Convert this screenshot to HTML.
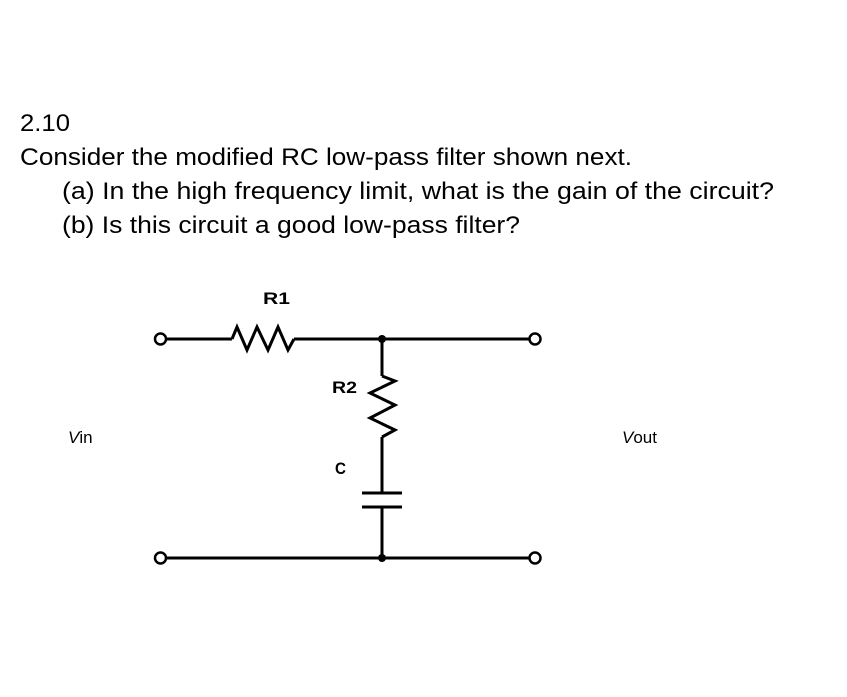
<!DOCTYPE html>
<html><head><style>html,body{margin:0;padding:0;background:#fff;}svg{display:block}</style></head>
<body>
<svg width="847" height="697" viewBox="0 0 847 697" xmlns="http://www.w3.org/2000/svg" font-family="Liberation Sans, sans-serif">
<g font-size="24" fill="#000">
<text x="20" y="131" textLength="50" lengthAdjust="spacingAndGlyphs">2.10</text>
<text x="20" y="165" textLength="612" lengthAdjust="spacingAndGlyphs">Consider the modified RC low-pass filter shown next.</text>
<text x="62" y="199" textLength="712" lengthAdjust="spacingAndGlyphs">(a)  In the high frequency limit, what is the gain of the circuit?</text>
<text x="62" y="233" textLength="458" lengthAdjust="spacingAndGlyphs">(b)  Is this circuit a good low-pass filter?</text>
</g>
<g font-size="17" font-weight="bold">
<text x="263" y="304" textLength="27" lengthAdjust="spacingAndGlyphs">R1</text>
<text x="332" y="393" textLength="25" lengthAdjust="spacingAndGlyphs">R2</text>
<text x="335" y="474" textLength="11" lengthAdjust="spacingAndGlyphs">C</text>
</g>
<g font-size="17" font-style="italic">
<text x="68" y="443">V<tspan font-style="normal">in</tspan></text>
<text x="622" y="443">V<tspan font-style="normal">out</tspan></text>
</g>
<g stroke="#000" stroke-width="3" fill="none" stroke-linejoin="miter">
<line x1="166" y1="339" x2="232" y2="339"/>
<polyline points="232,339 237,327 247,350 257,327 268,350 278,327 288,350 294,339"/>
<line x1="294" y1="339" x2="529" y2="339"/>
<line x1="382" y1="339" x2="382" y2="376"/>
<polyline points="382,376 395,381 370,393 395,405 370,418 395,430 382,437"/>
<line x1="382" y1="437" x2="382" y2="493"/>
<line x1="362" y1="493" x2="402" y2="493"/>
<line x1="362" y1="507" x2="402" y2="507"/>
<line x1="382" y1="507" x2="382" y2="558"/>
<line x1="166" y1="558" x2="529" y2="558"/>
<circle cx="160.5" cy="339" r="5.5" stroke-width="2.5"/>
<circle cx="535" cy="339" r="5.5" stroke-width="2.5"/>
<circle cx="160.5" cy="558" r="5.5" stroke-width="2.5"/>
<circle cx="535" cy="558" r="5.5" stroke-width="2.5"/>
</g>
<circle cx="382" cy="339" r="4" fill="#000"/>
<circle cx="382" cy="558" r="4" fill="#000"/>
</svg>
</body></html>
